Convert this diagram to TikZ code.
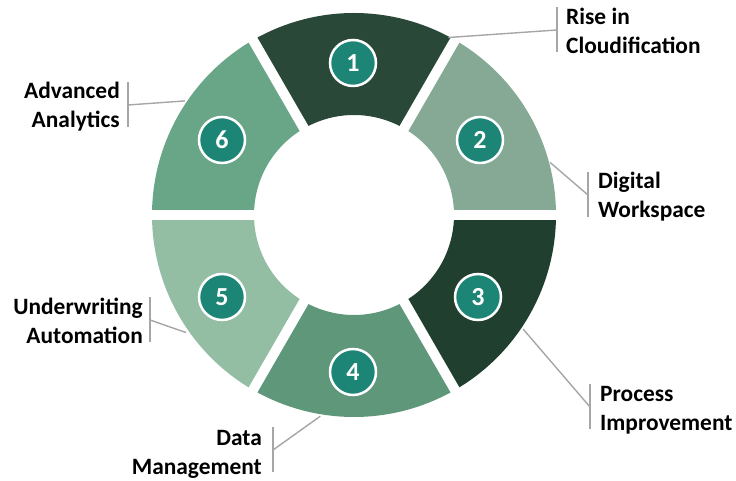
\documentclass[tikz,border=0pt]{standalone}
\usepackage{fontspec}
\setmainfont{Carlito}
\usetikzlibrary{calc}
\definecolor{segA}{HTML}{2A4838}
\definecolor{segB}{HTML}{86A995}
\definecolor{segC}{HTML}{213F2F}
\definecolor{segD}{HTML}{5F977A}
\definecolor{segE}{HTML}{93BEA4}
\definecolor{segF}{HTML}{69A687}
\definecolor{badge}{HTML}{1D8576}
\definecolor{leader}{HTML}{A6A6A6}
\tikzset{
  numbadge/.style={circle, fill=badge, draw=white, line width=2.5pt,
    minimum size=46pt, inner sep=0pt, text=white,
    font=\fontsize{26}{26}\selectfont\bfseries},
  lbl/.style={font=\fontsize{23.4}{29}\selectfont\bfseries, text=black,
    inner sep=0pt},
  lblR/.style={lbl, anchor=west, align=left},
  lblL/.style={lbl, anchor=east, align=right},
  leaderline/.style={draw=leader, line width=1.4pt},
  gapline/.style={draw=white, line width=10pt},
}
\begin{document}
\begin{tikzpicture}[x=1pt,y=1pt]
\useasboundingbox (0,0) rectangle (736,481);
\coordinate (C) at (354,266);

% ring segments
\begin{scope}[shift={(C)}]
  \foreach \a/\c in {60/segA, 0/segB, -60/segC, -120/segD, -180/segE, 120/segF}{
    \fill[\c] (\a:202) arc[start angle=\a, end angle=\a+60, radius=202]
      -- ({\a+60}:100) arc[start angle=\a+60, end angle=\a, radius=100] -- cycle;
  }
  % white separating gaps
  \foreach \a in {0,60,120,180,240,300}{
    \draw[gapline] (\a:90) -- (\a:215);
  }
  % leader start points on the outer rim
  \coordinate (p1) at (62:201);
  \coordinate (p2) at (15:203);
  \coordinate (p3) at (-34:204);
  \coordinate (p4) at (-99.5:204);
  \coordinate (p5) at (-145:205);
  \coordinate (p6) at (146:204);
\end{scope}

% number badges
\node[numbadge] (n1) at (353,418) {1};
\node[numbadge] (n2) at (480,341) {2};
\node[numbadge] (n3) at (478,184) {3};
\node[numbadge] (n4) at (353,109) {4};
\node[numbadge] (n5) at (222,184) {5};
\node[numbadge] (n6) at (222,341) {6};

% label bars
\coordinate (b1) at (557,451);
\coordinate (b2) at (588,286);
\coordinate (b3) at (590,74);
\coordinate (b4) at (273,31);
\coordinate (b5) at (150,161);
\coordinate (b6) at (128,376);
\foreach \b in {b1,b2,b3,b4,b5,b6}{
  \draw[leaderline] ($(\b)+(0,22.5)$) -- ($(\b)+(0,-22.5)$);
}

% labels
\node[lblR] (l1) at ($(b1)+(9,-1)$) {Rise in\\Cloudification};
\node[lblR] (l2) at ($(b2)+(10,-2)$) {Digital\\Workspace};
\node[lblR] (l3) at ($(b3)+(10,-3)$) {Process\\Improvement};
\node[lblL] (l4) at ($(b4)+(-11,-4)$) {Data\\Management};
\node[lblL] (l5) at ($(b5)+(-7,-1)$) {Underwriting\\Automation};
\node[lblL] (l6) at ($(b6)+(-8,-2)$) {Advanced\\Analytics};

% leader lines
\draw[leaderline] (p1) -- (b1);
\draw[leaderline] (p2) -- (b2);
\draw[leaderline] (p3) -- (b3);
\draw[leaderline] (p4) -- (b4);
\draw[leaderline] (p5) -- (b5);
\draw[leaderline] (p6) -- (b6);
\end{tikzpicture}
\end{document}
